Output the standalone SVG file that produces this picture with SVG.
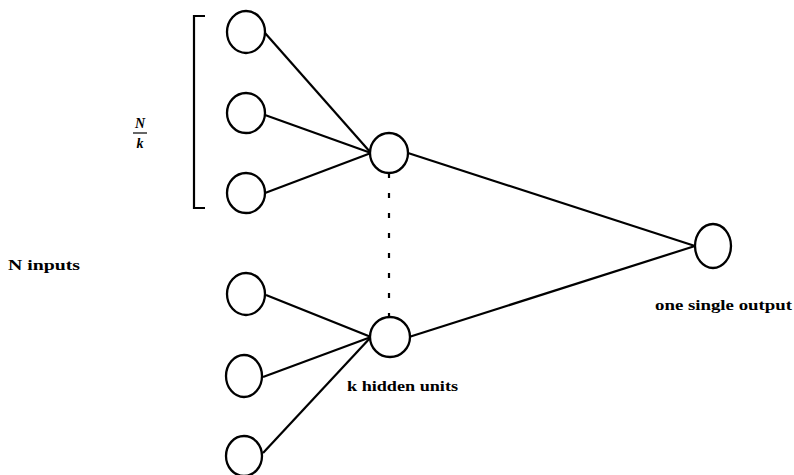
<svg xmlns="http://www.w3.org/2000/svg" width="794" height="475" viewBox="0 0 794 475">
<style>
.n{fill:#fff;stroke:#000;stroke-width:2.3}
.e{stroke:#000;stroke-width:2.2;fill:none}
.t{font-family:"Liberation Serif",serif;font-weight:bold;font-size:14px;fill:#000}
.i{font-family:"Liberation Serif",serif;font-style:italic;font-weight:bold;font-size:14px;fill:#000}
</style>
<rect width="794" height="475" fill="#fff"/>
<g id="connectors">
<line class="e" x1="265" y1="33" x2="371" y2="153"/>
<line class="e" x1="265" y1="115" x2="371" y2="153"/>
<line class="e" x1="265" y1="193" x2="371" y2="153"/>
<line class="e" x1="266" y1="295" x2="371" y2="337"/>
<line class="e" x1="263" y1="377" x2="371" y2="337"/>
<line class="e" x1="263" y1="453" x2="371" y2="337"/>
<line class="e" x1="408" y1="153" x2="695" y2="246"/>
<line class="e" x1="409" y1="337" x2="695" y2="246"/>
<line class="e" x1="389" y1="173" x2="389" y2="316" stroke-dasharray="5 15"/>
</g>
<g id="bracket">
<path class="e" d="M205 16 H194 V208 H205"/>
</g>
<g id="in1"><ellipse class="n" cx="246" cy="32" rx="19" ry="21"/></g>
<g id="in2"><ellipse class="n" cx="246" cy="113" rx="19" ry="20"/></g>
<g id="in3"><ellipse class="n" cx="246" cy="193" rx="19" ry="20"/></g>
<g id="in4"><ellipse class="n" cx="246" cy="294" rx="19" ry="21"/></g>
<g id="in5"><ellipse class="n" cx="244" cy="376" rx="18" ry="21"/></g>
<g id="in6"><ellipse class="n" cx="244" cy="456" rx="18" ry="20"/></g>
<g id="h1"><ellipse class="n" cx="389" cy="153" rx="19" ry="20"/></g>
<g id="h2"><ellipse class="n" cx="390" cy="337" rx="20" ry="20"/></g>
<g id="out"><ellipse class="n" cx="713" cy="246" rx="18" ry="22"/></g>
<g id="labels">
<text class="i" x="140" y="128" text-anchor="middle">N</text>
<line x1="133" y1="133" x2="147" y2="133" stroke="#000" stroke-width="1.2"/>
<text class="i" x="140" y="148" text-anchor="middle">k</text>
<text class="t" x="8" y="270" textLength="72" lengthAdjust="spacingAndGlyphs">N inputs</text>
<text class="t" x="347" y="391" textLength="111" lengthAdjust="spacingAndGlyphs">k hidden units</text>
<text class="t" x="655" y="310" textLength="137" lengthAdjust="spacingAndGlyphs">one single output</text>
</g>
</svg>
